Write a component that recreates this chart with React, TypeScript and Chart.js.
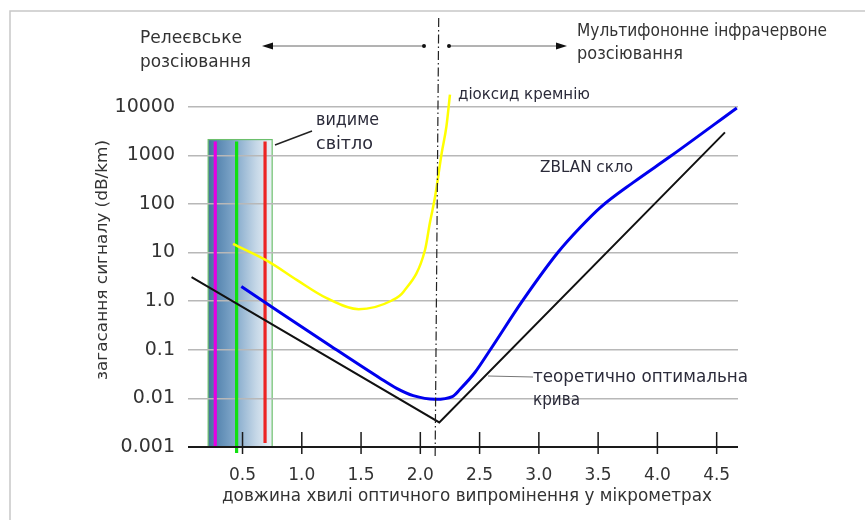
import React, { useEffect, useRef } from "react";
import { Chart, registerables } from "chart.js";
Chart.register(...registerables);

// ---- data ----
const yTickValues = [0.001, 0.01, 0.1, 1, 10, 100, 1000, 10000];
const yTickLabels = ["0.001", "0.01", "0.1", "1.0", "10", "100", "1000", "10000"];
const xTickValues = [0.5, 1, 1.5, 2, 2.5, 3, 3.5, 4, 4.5];
const xTickLabels = ["0.5", "1.0", "1.5", "2.0", "2.5", "3.0", "3.5", "4.0", "4.5"];

const theoreticalX = [0.07, 2.16, 4.57];
const theoreticalY = [3.1, 0.0032, 2950];

const zblanX = [0.49, 0.82, 1.24, 1.66, 1.8, 1.94, 2.125, 2.27, 2.335, 2.46, 2.59, 2.86, 3.16, 3.35, 3.52, 3.8, 4.11, 4.67];
const zblanY = [2.0, 0.58, 0.121, 0.026, 0.0161, 0.0114, 0.0096, 0.0109, 0.0154, 0.034, 0.1, 1.0, 10, 33, 85, 280, 950, 9400];

const silicaX = [0.42, 0.72, 0.96, 1.21, 1.48, 1.76, 1.86, 2.04, 2.08, 2.125, 2.18, 2.22, 2.25];
const silicaY = [15, 6.5, 2.7, 1.15, 0.68, 1.03, 1.58, 11.4, 40, 143, 1100, 3900, 17700];

const visibleBandX = [0.21, 0.75];
const visibleBandTop = 2100;
const spectralLinesX = [0.27, 0.45, 0.69];

const FONT = '"DejaVu Sans", Verdana, sans-serif';

function drawFit(ctx: CanvasRenderingContext2D, text: string, x: number, y: number, width: number, size: number, align: CanvasTextAlign = "left", color = "#2b2b3a") {
  ctx.save();
  ctx.font = `${size}px ${FONT}`;
  ctx.fillStyle = color;
  ctx.textBaseline = "middle";
  ctx.textAlign = align;
  const w = ctx.measureText(text).width;
  ctx.translate(x, y);
  ctx.scale(width / w, 1);
  ctx.fillText(text, 0, 0);
  ctx.restore();
}

const decorPlugin = {
  id: "decor",
  beforeDraw(chart: any) {
    const ctx: CanvasRenderingContext2D = chart.ctx;
    const xs = chart.scales.x;
    const ys = chart.scales.y;
    const x0 = xs.getPixelForValue(visibleBandX[0]);
    const x1 = xs.getPixelForValue(visibleBandX[1]);
    const yt = ys.getPixelForValue(visibleBandTop);
    const yb = ys.getPixelForValue(0.001);
    ctx.save();
    const g = ctx.createLinearGradient(x0, 0, x1, 0);
    g.addColorStop(0, "#42729a");
    g.addColorStop(0.1, "#5282ad");
    g.addColorStop(0.4, "#7fa6c9");
    g.addColorStop(0.75, "#c5d7e7");
    g.addColorStop(1, "#eef3f8");
    ctx.fillStyle = g;
    ctx.fillRect(x0, yt, x1 - x0, yb - yt);
    ctx.strokeStyle = "#6cbf6c";
    ctx.lineWidth = 1.2;
    ctx.strokeRect(x0, yt, x1 - x0, yb - yt);
    ctx.restore();
  },
  beforeDatasetsDraw(chart: any) {
    const ctx: CanvasRenderingContext2D = chart.ctx;
    const xs = chart.scales.x;
    const ys = chart.scales.y;
    const yt = ys.getPixelForValue(visibleBandTop) + 2;
    const yb = ys.getPixelForValue(0.001);
    const cols = ["#e400e4", "#10e010", "#ec2424"];
    const bottoms = [yb, yb + 6, yb - 4];
    ctx.save();
    spectralLinesX.forEach((v, i) => {
      const x = xs.getPixelForValue(v);
      ctx.strokeStyle = cols[i];
      ctx.lineWidth = 3.2;
      ctx.beginPath();
      ctx.moveTo(x, yt);
      ctx.lineTo(x, bottoms[i]);
      ctx.stroke();
    });
    ctx.restore();
  },
  afterDraw(chart: any) {
    const ctx: CanvasRenderingContext2D = chart.ctx;
    const xs = chart.scales.x;
    const ys = chart.scales.y;
    const ca = chart.chartArea;
    const yAxis = ys.getPixelForValue(0.001);
    ctx.save();
    // frame
    ctx.strokeStyle = "#c8c8c8";
    ctx.lineWidth = 1.5;
    ctx.beginPath();
    ctx.moveTo(10, 520);
    ctx.lineTo(10, 11);
    ctx.lineTo(865, 11);
    ctx.stroke();
    // x axis line
    ctx.strokeStyle = "#1a1a1a";
    ctx.lineWidth = 2;
    ctx.beginPath();
    ctx.moveTo(ca.left, yAxis);
    ctx.lineTo(ca.right, yAxis);
    ctx.stroke();
    // tick marks
    ctx.lineWidth = 1.5;
    xTickValues.forEach((v) => {
      const x = xs.getPixelForValue(v);
      ctx.beginPath();
      ctx.moveTo(x, yAxis - 15);
      ctx.lineTo(x, yAxis + 7);
      ctx.stroke();
    });
    // dash-dot separator
    ctx.strokeStyle = "#222";
    ctx.lineWidth = 1.2;
    ctx.setLineDash([9, 3, 1.5, 3]);
    ctx.beginPath();
    ctx.moveTo(xs.getPixelForValue(2.155), 18);
    ctx.lineTo(xs.getPixelForValue(2.125), yAxis + 9);
    ctx.stroke();
    ctx.setLineDash([]);
    // arrows
    const ay = 46;
    ctx.strokeStyle = "#666";
    ctx.lineWidth = 1;
    ctx.beginPath();
    ctx.moveTo(424, ay);
    ctx.lineTo(270, ay);
    ctx.moveTo(449, ay);
    ctx.lineTo(558, ay);
    ctx.stroke();
    ctx.fillStyle = "#111";
    ctx.beginPath();
    ctx.moveTo(262, ay);
    ctx.lineTo(273, ay - 3.5);
    ctx.lineTo(273, ay + 3.5);
    ctx.closePath();
    ctx.fill();
    ctx.beginPath();
    ctx.moveTo(567, ay);
    ctx.lineTo(556, ay - 3.5);
    ctx.lineTo(556, ay + 3.5);
    ctx.closePath();
    ctx.fill();
    ctx.beginPath();
    ctx.arc(424, ay, 2, 0, Math.PI * 2);
    ctx.arc(449, ay, 2, 0, Math.PI * 2);
    ctx.fill();
    // leader lines
    ctx.strokeStyle = "#222";
    ctx.lineWidth = 1.5;
    ctx.beginPath();
    ctx.moveTo(275, 145);
    ctx.lineTo(312, 131);
    ctx.stroke();
    ctx.strokeStyle = "#777";
    ctx.lineWidth = 1;
    ctx.beginPath();
    ctx.moveTo(488, 376);
    ctx.lineTo(533, 377);
    ctx.stroke();
    ctx.restore();

    // texts
    drawFit(ctx, "Релеєвське", 140, 38, 102, 18, "left", "#333");
    drawFit(ctx, "розсіювання", 140, 62, 111, 18, "left", "#333");
    drawFit(ctx, "Мультифононне інфрачервоне", 577, 32, 250, 17, "left", "#333");
    drawFit(ctx, "розсіювання", 577, 55, 106, 17, "left", "#333");
    drawFit(ctx, "діоксид кремнію", 458, 95, 132, 16);
    drawFit(ctx, "видиме", 316, 120, 63, 18);
    drawFit(ctx, "світло", 316, 144, 57, 18);
    drawFit(ctx, "ZBLAN скло", 540, 168, 93, 16);
    drawFit(ctx, "теоретично оптимальна", 533, 378, 215, 17);
    drawFit(ctx, "крива", 533, 401, 47, 17);
    drawFit(ctx, "довжина хвилі оптичного випромінення у мікрометрах", 467, 497, 490, 17, "center", "#333");
    ctx.save();
    ctx.translate(103, 260);
    ctx.rotate(-Math.PI / 2);
    drawFit(ctx, "загасання сигналу (dB/km)", 0, 0, 240, 16, "center", "#333");
    ctx.restore();
  },
};

export default function App() {
  const ref = useRef<HTMLCanvasElement | null>(null);
  useEffect(() => {
    if (!ref.current) return;
    const chart = new Chart(ref.current, {
      type: "line",
      data: {
        datasets: [
          {
            label: "theoretical",
            data: theoreticalX.map((x, i) => ({ x, y: theoreticalY[i] })),
            borderColor: "#111111",
            borderWidth: 2,
            pointRadius: 0,
            tension: 0,
          },
          {
            label: "ZBLAN",
            data: zblanX.map((x, i) => ({ x, y: zblanY[i] })),
            borderColor: "#0000ee",
            borderWidth: 3,
            pointRadius: 0,
            cubicInterpolationMode: "monotone",
          },
          {
            label: "silica",
            data: silicaX.map((x, i) => ({ x, y: silicaY[i] })),
            borderColor: "#ffff00",
            borderWidth: 2.5,
            pointRadius: 0,
            cubicInterpolationMode: "monotone",
          },
        ],
      },
      options: {
        animation: false,
        responsive: false,
        layout: { padding: { top: 58, right: 127, left: 0, bottom: 0 } },
        plugins: { legend: { display: false }, tooltip: { enabled: false } },
        scales: {
          x: {
            type: "linear",
            min: 0.04,
            max: 4.68,
            afterFit: (s: any) => {
              s.height = 73;
            },
            afterBuildTicks: (s: any) => {
              s.ticks = xTickValues.map((v) => ({ value: v }));
            },
            grid: { display: false },
            border: { display: false },
            ticks: {
              padding: 10,
              color: "#333",
              font: { family: FONT, size: 17 },
              maxRotation: 0,
              autoSkip: false,
              callback: (v: any) => {
                const i = xTickValues.indexOf(Number(v));
                return i >= 0 ? xTickLabels[i] : "";
              },
            },
          },
          y: {
            type: "logarithmic",
            min: 0.001,
            max: 100000,
            afterFit: (s: any) => {
              s.width = 188;
            },
            afterBuildTicks: (s: any) => {
              s.ticks = yTickValues.map((v) => ({ value: v }));
            },
            grid: { color: "#b8b8b8", lineWidth: 1.5, drawTicks: false },
            border: { display: false },
            ticks: {
              padding: 13,
              color: "#333",
              font: { family: FONT, size: 19 },
              autoSkip: false,
              callback: (v: any) => {
                const i = yTickValues.findIndex((t) => Math.abs(t - Number(v)) / t < 1e-6);
                return i >= 0 ? yTickLabels[i] : "";
              },
            },
          },
        },
      },
      plugins: [decorPlugin],
    });
    return () => chart.destroy();
  }, []);
  return (
    <div style={{ position: "fixed", left: 0, top: 0, width: 865, height: 520, background: "#fff" }}>
      <canvas ref={ref} width={865} height={520} style={{ display: "block", width: 865, height: 520 }} />
    </div>
  );
}
